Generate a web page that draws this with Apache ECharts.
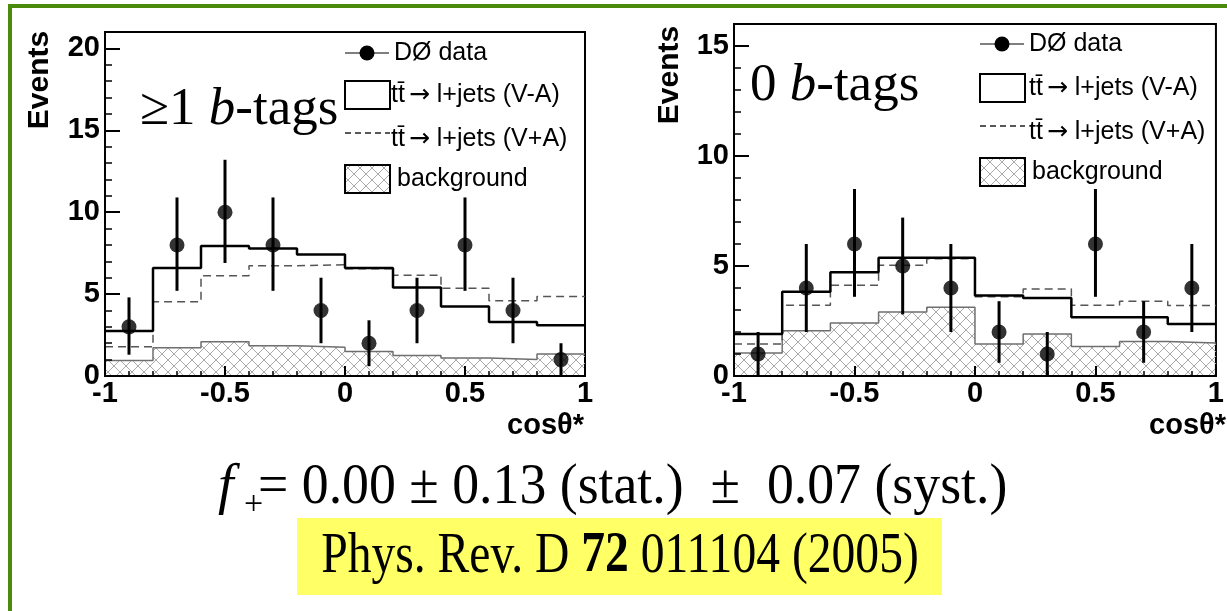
<!DOCTYPE html>
<html>
<head>
<meta charset="utf-8">
<script src="https://cdn.jsdelivr.net/npm/echarts@6/dist/echarts.min.js"></script>
<style>
  html, body { margin: 0; padding: 0; background: #fff; }
  #main { width: 1227px; height: 611px; }
</style>
</head>
<body>
<div id="main"></div>
<script>
// bins in cos(theta*)
var binEdges = [-1, -0.8, -0.6, -0.4, -0.2, 0, 0.2, 0.4, 0.6, 0.8, 1];
var binCenters = [-0.9, -0.7, -0.5, -0.3, -0.1, 0.1, 0.3, 0.5, 0.7, 0.9];
var xTicks = [-1, -0.5, 0, 0.5, 1];

// >=1 b-tags
var tagData  = [3, 8, 10, 8, 4, 2, 4, 8, 4, 1];
var tagErrLo = [1.3, 5.2, 6.9, 5.2, 2.0, 0.6, 2.0, 5.2, 2.0, 0.0];
var tagErrHi = [4.8, 10.9, 13.2, 10.9, 6.0, 3.4, 6.0, 10.9, 6.0, 2.0];
var tagVmA   = [2.74, 6.6, 7.93, 7.78, 7.42, 6.6, 5.4, 4.25, 3.3, 3.1];
var tagVpA   = [1.79, 4.53, 6.12, 6.73, 6.79, 6.55, 6.15, 5.35, 4.6, 4.85];
var tagBkg   = [0.94, 1.73, 2.09, 1.85, 1.75, 1.5, 1.25, 1.1, 1.0, 1.35];
var tagYTicks = [0, 5, 10, 15, 20];

// 0 b-tags
var notagData  = [1, 4, 6, 5, 4, 2, 1, 6, 2, 4];
var notagErrLo = [0.0, 2.0, 3.6, 2.8, 2.0, 0.6, 0.0, 3.6, 0.6, 2.0];
var notagErrHi = [2.0, 6.0, 8.5, 7.2, 6.0, 3.4, 2.0, 8.5, 3.4, 6.0];
var notagVmA   = [1.91, 3.83, 4.72, 5.38, 5.38, 3.66, 3.55, 2.67, 2.67, 2.36];
var notagVpA   = [1.45, 3.22, 4.13, 5.03, 5.33, 3.6, 3.96, 3.22, 3.4, 3.2];
var notagBkg   = [1.04, 2.06, 2.41, 2.91, 3.12, 1.46, 1.91, 1.34, 1.57, 1.5];
var notagYTicks = [0, 5, 10, 15];

var SANS = 'Liberation Sans';
var SERIF = 'Liberation Serif';

// cross hatch pattern for background
var hatch = document.createElement('canvas');
hatch.width = 12; hatch.height = 12;
var hg = hatch.getContext('2d');
hg.strokeStyle = '#aaaaaa';
hg.lineWidth = 1;
hg.beginPath();
hg.moveTo(0, 0); hg.lineTo(12, 12);
hg.moveTo(12, 0); hg.lineTo(0, 12);
hg.stroke();

function stepData(vals) {
  var d = vals.map(function (v, i) { return [binEdges[i], v]; });
  d.push([binEdges[binEdges.length - 1], vals[vals.length - 1]]);
  return d;
}

// axes get z 10 so the ticks sit above the grid background
function xAxisCfg(gi) {
  return {
    gridIndex: gi, type: 'value', z: 10,
    min: xTicks[0], max: xTicks[xTicks.length - 1], interval: xTicks[1] - xTicks[0],
    axisLine: { show: true, onZero: false, lineStyle: { color: '#000', width: 2 } },
    axisTick: { show: true, inside: true, length: 10, lineStyle: { color: '#000', width: 2 } },
    minorTick: { show: true, splitNumber: 5, length: 5, lineStyle: { color: '#000', width: 1.5 } },
    splitLine: { show: false },
    axisLabel: { color: '#000', fontFamily: SANS, fontWeight: 'bold', fontSize: 29, margin: 3 }
  };
}

function yAxisMajor(gi, ticks, max) {
  return {
    gridIndex: gi, type: 'value', position: 'left', offset: 0, z: 10,
    min: 0, max: max, interval: ticks[1] - ticks[0],
    axisLine: { show: true, onZero: false, lineStyle: { color: '#000', width: 2 } },
    axisTick: { show: true, inside: true, length: 15, lineStyle: { color: '#000', width: 2 } },
    splitLine: { show: false },
    axisLabel: {
      color: '#000', fontFamily: SANS, fontWeight: 'bold', fontSize: 29, margin: 5,
      showMaxLabel: false,
      formatter: function (v) { return ticks.indexOf(v) >= 0 ? String(v) : ''; }
    }
  };
}

// second y axis only for the small ticks every 1 event
function yAxisMinor(gi, max) {
  return {
    gridIndex: gi, type: 'value', position: 'left', offset: 0, z: 10,
    min: 0, max: max, interval: 1,
    axisLine: { show: false, onZero: false },
    axisTick: { show: true, inside: true, length: 7, lineStyle: { color: '#000', width: 1.5 } },
    splitLine: { show: false },
    axisLabel: { show: false }
  };
}

function plotSeries(xi, yi, data, lo, hi, vma, vpa, bkg) {
  return [
    {
      type: 'line', xAxisIndex: xi, yAxisIndex: yi, step: 'end', symbol: 'none',
      data: stepData(bkg), z: 2,
      lineStyle: { color: '#6f6f6f', width: 1.5 },
      areaStyle: { color: { image: hatch, repeat: 'repeat' }, opacity: 1 }
    },
    {
      type: 'line', xAxisIndex: xi, yAxisIndex: yi, step: 'end', symbol: 'none',
      data: stepData(vpa), z: 3,
      lineStyle: { color: '#555', width: 1.5, type: [8, 5] }
    },
    {
      type: 'line', xAxisIndex: xi, yAxisIndex: yi, step: 'end', symbol: 'none',
      data: stepData(vma), z: 4,
      lineStyle: { color: '#000', width: 2.5 }
    },
    {
      type: 'custom', xAxisIndex: xi, yAxisIndex: yi, z: 5,
      data: binCenters.map(function (x, i) { return [x, lo[i], hi[i]]; }),
      encode: { x: 0, y: [1, 2] },
      renderItem: function (params, api) {
        var p1 = api.coord([api.value(0), api.value(1)]);
        var p2 = api.coord([api.value(0), api.value(2)]);
        return {
          type: 'line',
          shape: { x1: p1[0], y1: p1[1], x2: p2[0], y2: p2[1] },
          style: { stroke: '#000', lineWidth: 3 }
        };
      }
    },
    {
      type: 'scatter', xAxisIndex: xi, yAxisIndex: yi, z: 6,
      symbol: 'circle', symbolSize: 15,
      itemStyle: { color: '#000' },
      data: binCenters.map(function (x, i) { return [x, data[i]]; })
    }
  ];
}

var legRich = {
  a: { fontFamily: SANS, fontSize: 25, color: '#111' },
  t: { fontFamily: SANS, fontSize: 25, color: '#111', padding: [0, 4, 0, 0] },
  r: { fontFamily: 'DejaVu Sans', fontSize: 25, color: '#111' }
};

function legendEls(x0, tx, yData, yVA, yVP, yBg) {
  function t(x, y, s) {
    return {
      type: 'text', x: x, y: y, z: 20,
      style: { text: s, rich: legRich, align: 'left', verticalAlign: 'middle' }
    };
  }
  return [
    { type: 'line', z: 20, shape: { x1: x0, y1: yData, x2: x0 + 44, y2: yData }, style: { stroke: '#555', lineWidth: 1.5 } },
    { type: 'circle', z: 21, shape: { cx: x0 + 22, cy: yData, r: 7.5 }, style: { fill: '#000' } },
    t(x0 + 49, yData, '{a|DØ data}'),
    { type: 'rect', z: 20, shape: { x: x0, y: yVA - 14, width: 45, height: 28 }, style: { fill: '#fff', stroke: '#000', lineWidth: 2 } },
    t(x0 + tx, yVA, '{t|tt\u0304}{r|\u2192}{a| l+jets (V-A)}'),
    { type: 'line', z: 20, shape: { x1: x0, y1: yVP - 6, x2: x0 + 45, y2: yVP - 6 }, style: { stroke: '#222', lineWidth: 1.5, lineDash: [6, 4] } },
    t(x0 + tx, yVP, '{t|tt\u0304}{r|\u2192}{a| l+jets (V+A)}'),
    { type: 'rect', z: 20, shape: { x: x0, y: yBg - 14, width: 45, height: 28 }, style: { fill: { image: hatch, repeat: 'repeat' }, stroke: '#000', lineWidth: 2 } },
    t(x0 + 52, yBg, '{a|background}')
  ];
}

function eventsLabel(x, y) {
  return {
    type: 'text', x: x, y: y, rotation: Math.PI / 2, z: 20,
    style: { text: 'Events', fontFamily: SANS, fontWeight: 'bold', fontSize: 30, fill: '#000', align: 'center', verticalAlign: 'middle' }
  };
}

function cosLabel(x, y) {
  return {
    type: 'text', x: x, y: y, z: 20,
    style: { text: 'cos\u03b8*', fontFamily: SANS, fontWeight: 'bold', fontSize: 29, fill: '#000', align: 'right', verticalAlign: 'middle' }
  };
}

function tagLabel(x, y, num) {
  return {
    type: 'text', x: x, y: y, z: 20,
    style: {
      text: '{n|' + num + ' }{i|b}{n|-tags}',
      align: 'left', verticalAlign: 'middle',
      rich: {
        n: { fontFamily: SERIF, fontSize: 53, color: '#000' },
        i: { fontFamily: SERIF, fontSize: 53, fontStyle: 'italic', color: '#000' }
      }
    }
  };
}

var chart = echarts.init(document.getElementById('main'));

var graphics = [
  { type: 'rect', z: 30, shape: { x: 10, y: 6, width: 1400, height: 800 }, style: { fill: 'none', stroke: '#4b8b0c', lineWidth: 4 } },
  eventsLabel(40, 80),
  eventsLabel(670, 75),
  cosLabel(584, 426),
  cosLabel(1226, 426),
  tagLabel(140, 110, '\u22651'),
  tagLabel(750, 86, '0'),
  {
    type: 'text', x: 218, y: 488, z: 20,
    style: { text: 'f', fontFamily: SERIF, fontStyle: 'italic', fontSize: 56, fill: '#000', align: 'left', verticalAlign: 'middle' }
  },
  {
    type: 'text', x: 244, y: 505, z: 20,
    style: { text: '+', fontFamily: SERIF, fontSize: 34, fill: '#000', align: 'left', verticalAlign: 'middle' }
  },
  {
    type: 'text', x: 258, y: 488, z: 20, scaleX: 0.96,
    style: { text: '= 0.00 \u00b1 0.13 (stat.)  \u00b1  0.07 (syst.)', fontFamily: SERIF, fontSize: 56, fill: '#000', align: 'left', verticalAlign: 'middle' }
  },
  { type: 'rect', z: 10, shape: { x: 297, y: 518, width: 645, height: 77 }, style: { fill: '#ffff66' } },
  {
    type: 'text', x: 620, y: 557, z: 20, scaleX: 0.85,
    style: {
      text: '{a|Phys. Rev. D }{b|72}{a| 011104 (2005)}',
      align: 'center', verticalAlign: 'middle',
      rich: {
        a: { fontFamily: SERIF, fontSize: 56, color: '#000' },
        b: { fontFamily: SERIF, fontSize: 56, fontWeight: 'bold', color: '#000' }
      }
    }
  }
].concat(legendEls(345, 46, 53, 95, 139, 179), legendEls(980, 49, 44, 88, 132, 172));

var option = {
  animation: false,
  backgroundColor: '#fff',
  grid: [
    { left: 105, top: 32, width: 480, height: 344, show: true, borderColor: '#000', borderWidth: 2, backgroundColor: '#fff' },
    { left: 734, top: 24, width: 492, height: 352, show: true, borderColor: '#000', borderWidth: 2, backgroundColor: '#fff' }
  ],
  xAxis: [xAxisCfg(0), xAxisCfg(1)],
  yAxis: [
    yAxisMajor(0, tagYTicks, 21), yAxisMinor(0, 21),
    yAxisMajor(1, notagYTicks, 16), yAxisMinor(1, 16)
  ],
  series: plotSeries(0, 0, tagData, tagErrLo, tagErrHi, tagVmA, tagVpA, tagBkg)
    .concat(plotSeries(1, 2, notagData, notagErrLo, notagErrHi, notagVmA, notagVpA, notagBkg)),
  graphic: graphics
};

chart.setOption(option);
</script>
</body>
</html>
